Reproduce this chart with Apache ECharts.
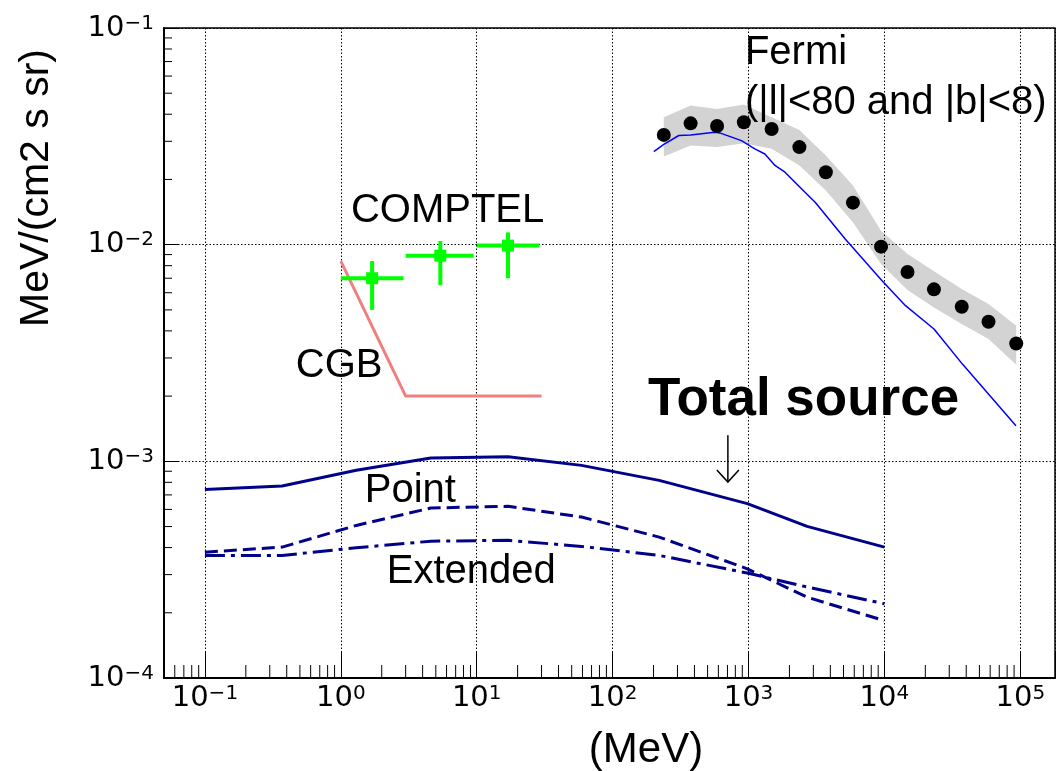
<!DOCTYPE html>
<html><head><meta charset="utf-8">
<script src="https://cdn.jsdelivr.net/npm/echarts@6/dist/echarts.min.js"></script>
<style>html,body{margin:0;padding:0;background:#fff}#c{width:1063px;height:771px}</style>
</head><body><div id="c"></div>
<script>
// ---------------- data (MeV, MeV/(cm2 s sr)) ----------------
const modelEnergy    = [0.1, 0.37, 1.3, 4.6, 17, 59, 220, 980, 2700, 10000];
const totalSource    = [7.42e-4, 7.69e-4, 9.09e-4, 1.036e-3, 1.051e-3, 9.58e-4, 8.17e-4, 6.38e-4, 5.01e-4, 4.02e-4];
const pointSource    = [3.81e-4, 4.02e-4, 5.06e-4, 6.09e-4, 6.20e-4, 5.53e-4, 4.47e-4, 3.19e-4, 2.36e-4, 1.84e-4];
const extendedSource = [3.68e-4, 3.68e-4, 3.99e-4, 4.28e-4, 4.32e-4, 4.05e-4, 3.68e-4, 3.05e-4, 2.63e-4, 2.20e-4];

const cgbEnergy = [1, 3, 30];
const cgbFlux   = [8.4e-3, 2.0e-3, 2.0e-3];

const comptelEnergy   = [1.7, 5.4, 17];
const comptelEnergyLo = [1.0, 3.0, 10];
const comptelEnergyHi = [2.9, 9.5, 29];
const comptelFlux     = [7.0e-3, 8.9e-3, 9.9e-3];
const comptelFluxLo   = [5.0e-3, 6.5e-3, 7.0e-3];
const comptelFluxHi   = [8.4e-3, 1.04e-2, 1.14e-2];

const fermiEnergy = [238, 375, 587, 924, 1479, 2368, 3707, 5868, 9450, 14790, 23150, 37070, 58340, 93330];
const fermiFlux   = [3.21e-2, 3.63e-2, 3.53e-2, 3.67e-2, 3.42e-2, 2.82e-2, 2.16e-2, 1.563e-2, 9.79e-3, 7.48e-3, 6.22e-3, 5.17e-3, 4.41e-3, 3.50e-3];
const fermiBandHi = [3.87e-2, 4.39e-2, 4.23e-2, 4.43e-2, 3.87e-2, 3.38e-2, 2.58e-2, 1.873e-2, 1.16e-2, 9.05e-3, 7.53e-3, 6.24e-3, 5.32e-3, 4.22e-3];
const fermiBandLo = [2.55e-2, 2.87e-2, 2.82e-2, 2.94e-2, 2.77e-2, 2.32e-2, 1.776e-2, 1.268e-2, 8.14e-3, 6.17e-3, 5.13e-3, 4.30e-3, 3.67e-3, 2.79e-3];

const fermiModelEnergy = [201, 238, 307, 375, 564, 614, 887, 1113, 1320, 1566, 1855, 2464, 3093, 5148, 9611, 14300, 23160, 37510, 92900];
const fermiModelFlux   = [2.69e-2, 2.90e-2, 3.19e-2, 3.21e-2, 3.30e-2, 3.28e-2, 3.02e-2, 2.77e-2, 2.62e-2, 2.32e-2, 2.16e-2, 1.807e-2, 1.568e-2, 1.062e-2, 6.82e-3, 5.23e-3, 4.08e-3, 2.81e-3, 1.46e-3];

const xDecades = [-2, -1, 0, 1, 2, 3, 4, 5];
const yDecades = [-4, -3, -2];
const minorMultipliers = [2, 3, 4, 5, 6, 7, 8, 9];
// ------------------------------------------------------------

const X_MIN = 0.05, X_MAX = 1.8e5, Y_MIN = 1e-4, Y_MAX = 0.1;
const TXT = "'Liberation Sans', Arial, Helvetica, sans-serif";
const TICKFONT = "'DejaVu Sans', sans-serif";

const xMinor = [];
xDecades.forEach(d => minorMultipliers.forEach(m => {
  const v = m * Math.pow(10, d);
  if (v > X_MIN * 1.001 && v < X_MAX) xMinor.push(v);
}));
const yMinor = [];
yDecades.forEach(d => minorMultipliers.forEach(m => yMinor.push(m * Math.pow(10, d))));

function sciLabel(v) {
  const e = Math.log10(v);
  const r = Math.round(e);
  if (Math.abs(e - r) > 1e-6) return '';
  return '{b|10}{s|' + (r < 0 ? '\u2212' + (-r) : String(r)) + '}';
}
const labelRich = {
  b: { fontFamily: TICKFONT, fontSize: 29, lineHeight: 29, color: '#000' },
  s: { fontFamily: TICKFONT, fontSize: 20, lineHeight: 9, verticalAlign: 'top', color: '#000' }
};
const zip = (a, b) => a.map((v, i) => [v, b[i]]);

const annotations = [
  { text: 'Fermi', x: 941, y: 0.0766, size: 40, weight: 'normal' },
  { text: '(|l|<80 and |b|<8)', x: 941, y: 0.0450, size: 40, weight: 'normal' },
  { text: 'COMPTEL', x: 1.187, y: 1.428e-2, size: 40, weight: 'normal' },
  { text: 'CGB', x: 0.467, y: 2.747e-3, size: 40, weight: 'normal' },
  { text: 'Total source', x: 182, y: 1.903e-3, size: 53, weight: 'bold' },
  { text: 'Point', x: 1.50, y: 7.27e-4, size: 40, weight: 'normal' },
  { text: 'Extended', x: 2.18, y: 3.07e-4, size: 40, weight: 'normal' }
];
const arrowFrom = [705, 1.318e-3], arrowTo = [705, 8.02e-4];

const chart = echarts.init(document.getElementById('c'), null, { renderer: 'canvas' });
const navy = '#00008b';

chart.setOption({
  animation: false,
  backgroundColor: '#fff',
  grid: { left: 164, right: 8, top: 28, bottom: 93, show: true, borderColor: '#000', borderWidth: 1.5, backgroundColor: 'transparent' },
  xAxis: {
    type: 'log', logBase: 10, min: X_MIN, max: X_MAX, z: 1,
    axisLine: { show: true, lineStyle: { color: '#000', width: 2 } },
    axisTick: { show: true, inside: true, length: 26, lineStyle: { color: '#000', width: 1 } },
    minorTick: { show: false },
    axisLabel: { margin: 6, formatter: sciLabel, rich: labelRich, hideOverlap: false },
    splitLine: { show: true, lineStyle: { color: '#000', width: 1, type: [1.5, 2] } }
  },
  yAxis: {
    type: 'log', logBase: 10, min: Y_MIN, max: Y_MAX, z: 1,
    axisLine: { show: true, lineStyle: { color: '#000', width: 2 } },
    axisTick: { show: true, inside: true, length: 15, lineStyle: { color: '#000', width: 1 } },
    minorTick: { show: false },
    axisLabel: { margin: 10, formatter: sciLabel, rich: labelRich, hideOverlap: false },
    splitLine: { show: true, lineStyle: { color: '#000', width: 1, type: [1.5, 2] } }
  },
  graphic: [
    { type: 'text', x: 37, y: 188, rotation: Math.PI / 2,
      style: { text: 'MeV/(cm2 s sr)', font: '41px ' + TXT, fill: '#000', textAlign: 'center', textVerticalAlign: 'middle', align: 'center', verticalAlign: 'middle' } },
    { type: 'text', x: 646, y: 750,
      style: { text: '(MeV)', font: '42px ' + TXT, fill: '#000', textAlign: 'center', textVerticalAlign: 'middle', align: 'center', verticalAlign: 'middle' } }
  ],
  series: [
    { // Fermi band
      type: 'custom', name: 'Fermi band', z: 0, silent: true,
      data: [[fermiEnergy[0], fermiFlux[0]]],
      renderItem: (params, api) => {
        const pts = [];
        for (let i = 0; i < fermiEnergy.length; i++) pts.push(api.coord([fermiEnergy[i], fermiBandHi[i]]));
        for (let i = fermiEnergy.length - 1; i >= 0; i--) pts.push(api.coord([fermiEnergy[i], fermiBandLo[i]]));
        return { type: 'polygon', shape: { points: pts }, style: { fill: '#d3d3d3' } };
      }
    },
    { type: 'line', name: 'Fermi model', data: zip(fermiModelEnergy, fermiModelFlux), showSymbol: false, z: 3,
      lineStyle: { color: '#0000ff', width: 1.5 } },
    { type: 'scatter', name: 'Fermi', data: zip(fermiEnergy, fermiFlux), symbol: 'circle', symbolSize: 14, z: 4,
      itemStyle: { color: '#000', opacity: 1 } },
    { type: 'line', name: 'CGB', data: zip(cgbEnergy, cgbFlux), showSymbol: false, z: 3,
      lineStyle: { color: '#f08080', width: 3 } },
    { type: 'custom', name: 'COMPTEL', z: 4, data: zip(comptelEnergy, comptelFlux),
      renderItem: (params, api) => {
        const i = params.dataIndex;
        const c = api.coord([comptelEnergy[i], comptelFlux[i]]);
        const l = api.coord([comptelEnergyLo[i], comptelFlux[i]]);
        const r = api.coord([comptelEnergyHi[i], comptelFlux[i]]);
        const t = api.coord([comptelEnergy[i], comptelFluxHi[i]]);
        const b = api.coord([comptelEnergy[i], comptelFluxLo[i]]);
        const st = { stroke: '#00ff00', lineWidth: 4 };
        return { type: 'group', children: [
          { type: 'line', shape: { x1: l[0], y1: l[1], x2: r[0], y2: r[1] }, style: st },
          { type: 'line', shape: { x1: t[0], y1: t[1], x2: b[0], y2: b[1] }, style: st },
          { type: 'rect', shape: { x: c[0] - 6, y: c[1] - 6, width: 12, height: 12 }, style: { fill: '#00ff00' } }
        ] };
      }
    },
    { type: 'line', name: 'Total', data: zip(modelEnergy, totalSource), showSymbol: false, z: 3,
      lineStyle: { color: navy, width: 3 } },
    { type: 'line', name: 'Point', data: zip(modelEnergy, pointSource), showSymbol: false, z: 3,
      lineStyle: { color: navy, width: 3, type: [13, 6] } },
    { type: 'line', name: 'Extended', data: zip(modelEnergy, extendedSource), showSymbol: false, z: 3,
      lineStyle: { color: navy, width: 3, type: [20, 6, 4, 6] } },
    { // minor ticks on x
      type: 'custom', name: 'xminor', silent: true, z: 5,
      data: xMinor.map(v => [v, Y_MIN]),
      renderItem: (params, api) => {
        const p = api.coord([api.value(0), Y_MIN]);
        return { type: 'line', shape: { x1: p[0], y1: p[1], x2: p[0], y2: p[1] - 13 }, style: { stroke: '#000', lineWidth: 1 } };
      }
    },
    { // minor ticks on y
      type: 'custom', name: 'yminor', silent: true, z: 5,
      data: yMinor.map(v => [X_MIN, v]),
      renderItem: (params, api) => {
        const p = api.coord([X_MIN, api.value(1)]);
        return { type: 'line', shape: { x1: p[0], y1: p[1], x2: p[0] + 8, y2: p[1] }, style: { stroke: '#000', lineWidth: 1 } };
      }
    },
    { // text annotations
      type: 'custom', name: 'annotations', silent: true, z: 6,
      data: annotations.map(a => [a.x, a.y]),
      renderItem: (params, api) => {
        const a = annotations[params.dataIndex];
        const p = api.coord([a.x, a.y]);
        return { type: 'text', x: p[0], y: p[1],
          style: { text: a.text, font: a.weight + ' ' + a.size + 'px ' + TXT, fill: '#000',
                   textAlign: 'left', textVerticalAlign: 'middle', align: 'left', verticalAlign: 'middle' } };
      }
    },
    { // arrow
      type: 'custom', name: 'arrow', silent: true, z: 6,
      data: [arrowFrom],
      renderItem: (params, api) => {
        const p1 = api.coord(arrowFrom), p2 = api.coord(arrowTo);
        const st = { stroke: '#000', lineWidth: 1.5, fill: null };
        return { type: 'group', children: [
          { type: 'line', shape: { x1: p1[0], y1: p1[1], x2: p2[0], y2: p2[1] }, style: st },
          { type: 'polyline', shape: { points: [[p2[0] - 11, p2[1] - 12], [p2[0], p2[1]], [p2[0] + 11, p2[1] - 12]] }, style: st }
        ] };
      }
    }
  ]
});
</script>
</body></html>
